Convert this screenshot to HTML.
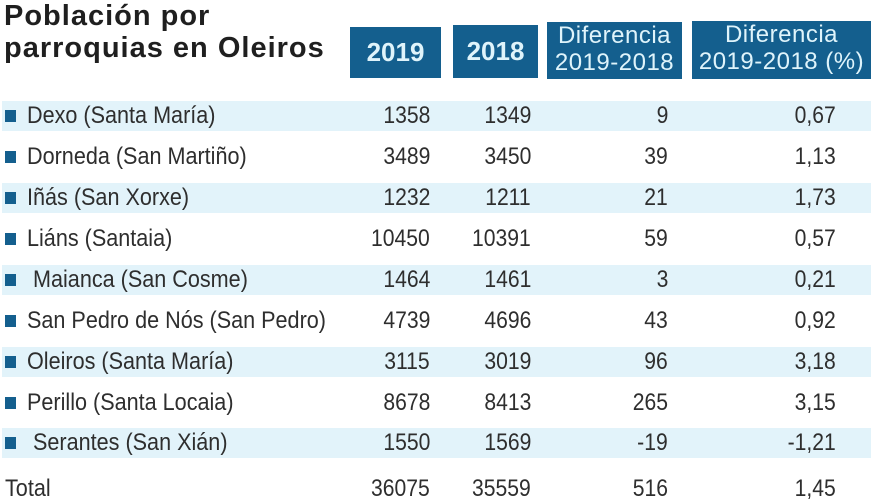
<!DOCTYPE html>
<html>
<head>
<meta charset="utf-8">
<style>
html,body{margin:0;padding:0;}
body{width:880px;height:495px;overflow:hidden;background:#fff;position:relative;font-family:"Liberation Sans",sans-serif;color:#2e2e2e;}
.t{position:absolute;left:4px;font-weight:bold;font-size:29px;line-height:29px;letter-spacing:1px;color:#1f1f1f;white-space:nowrap;}
.hb{position:absolute;background:#145f8e;color:#dff4fb;text-align:center;}
.hb.y{font-weight:bold;font-size:26px;display:flex;align-items:center;justify-content:center;}
.hb.d{font-size:24px;line-height:27px;letter-spacing:0.5px;}
.row{position:absolute;left:2px;width:869px;height:30px;line-height:30px;font-size:24px;}
.row.s{background:#e2f3fa;}
.sq{position:absolute;left:3px;top:9px;width:11px;height:12px;background:#145f8e;}
.lb{position:absolute;left:25px;top:0;white-space:nowrap;transform:scaleX(0.9);transform-origin:left center;}
.n{position:absolute;top:0;text-align:right;white-space:nowrap;transform:scaleX(0.88);transform-origin:right center;}
.c1{right:441px;}
.c2{right:340px;}
.c3{right:203px;}
.c4{right:35px;}
</style>
</head>
<body>
<div class="t" style="top:2px;">Población por</div>
<div class="t" style="top:34px;">parroquias en Oleiros</div>

<div class="hb y" style="left:350px;top:27px;width:91px;height:51px;">2019</div>
<div class="hb y" style="left:453px;top:25px;width:85px;height:53px;">2018</div>
<div class="hb d" style="left:547px;top:22px;width:135px;height:57px;">Diferencia<br>2019-2018</div>
<div class="hb d" style="left:692px;top:21px;width:179px;height:58px;">Diferencia<br>2019-2018 (%)</div>

<div class="row s" style="top:101px;"><div class="sq"></div><div class="lb">Dexo (Santa María)</div><div class="n c1">1358</div><div class="n c2">1349</div><div class="n c3">9</div><div class="n c4">0,67</div></div>
<div class="row" style="top:142px;"><div class="sq"></div><div class="lb">Dorneda (San Martiño)</div><div class="n c1">3489</div><div class="n c2">3450</div><div class="n c3">39</div><div class="n c4">1,13</div></div>
<div class="row s" style="top:183px;"><div class="sq"></div><div class="lb">Iñás (San Xorxe)</div><div class="n c1">1232</div><div class="n c2">1211</div><div class="n c3">21</div><div class="n c4">1,73</div></div>
<div class="row" style="top:224px;"><div class="sq"></div><div class="lb">Liáns (Santaia)</div><div class="n c1">10450</div><div class="n c2">10391</div><div class="n c3">59</div><div class="n c4">0,57</div></div>
<div class="row s" style="top:265px;"><div class="sq"></div><div class="lb" style="left:31px;">Maianca (San Cosme)</div><div class="n c1">1464</div><div class="n c2">1461</div><div class="n c3">3</div><div class="n c4">0,21</div></div>
<div class="row" style="top:306px;"><div class="sq"></div><div class="lb">San Pedro de Nós (San Pedro)</div><div class="n c1">4739</div><div class="n c2">4696</div><div class="n c3">43</div><div class="n c4">0,92</div></div>
<div class="row s" style="top:347px;"><div class="sq"></div><div class="lb">Oleiros (Santa María)</div><div class="n c1">3115</div><div class="n c2">3019</div><div class="n c3">96</div><div class="n c4">3,18</div></div>
<div class="row" style="top:388px;"><div class="sq"></div><div class="lb">Perillo (Santa Locaia)</div><div class="n c1">8678</div><div class="n c2">8413</div><div class="n c3">265</div><div class="n c4">3,15</div></div>
<div class="row s" style="top:428px;"><div class="sq"></div><div class="lb" style="left:31px;">Serantes (San Xián)</div><div class="n c1">1550</div><div class="n c2">1569</div><div class="n c3">-19</div><div class="n c4">-1,21</div></div>
<div class="row" style="top:474px;"><div class="lb" style="left:3px;">Total</div><div class="n c1">36075</div><div class="n c2">35559</div><div class="n c3">516</div><div class="n c4">1,45</div></div>
</body>
</html>
